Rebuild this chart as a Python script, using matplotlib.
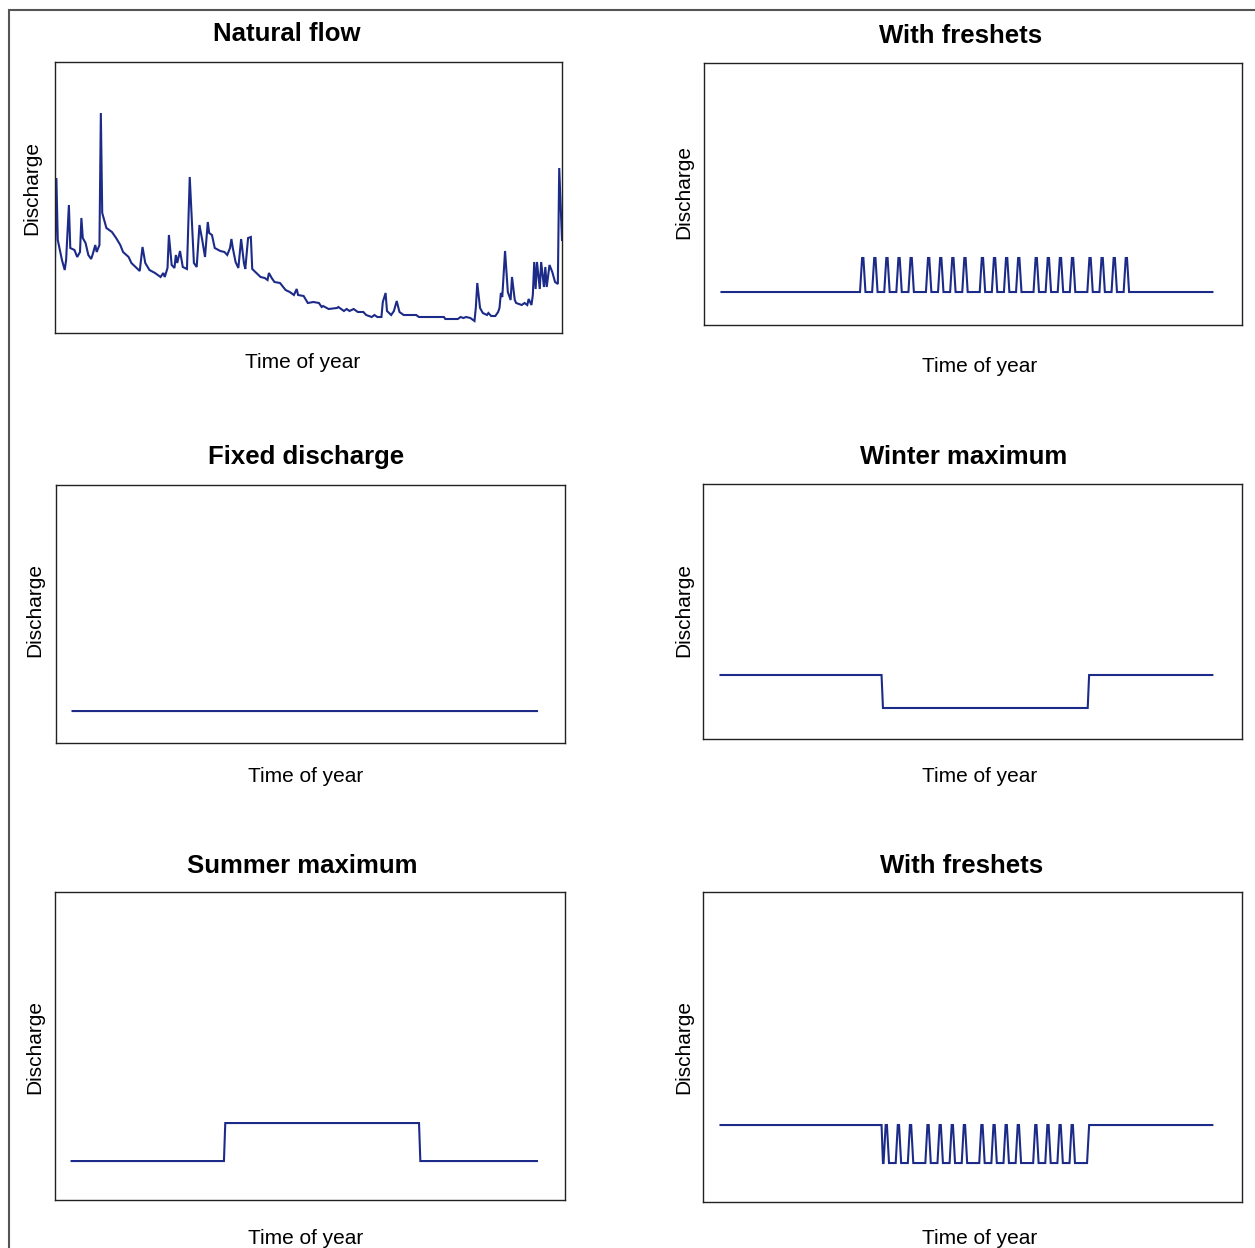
import numpy as np
import matplotlib
matplotlib.use("Agg")
import matplotlib.pyplot as plt
from matplotlib.patches import Rectangle

plt.rcParams["font.family"] = ["Liberation Sans", "DejaVu Sans"]

W, H = 1255, 1248
LINE = "#1c2b88"

# ---- Natural flow: daily discharge through the year (day, discharge) ----
nat_day = [
    0, 1, 2, 5, 7, 8, 10, 11, 14, 16,
    18, 19, 20, 22, 24, 26, 27, 29, 30, 32,
    33, 34, 37, 41, 44, 47, 49, 53, 55, 58,
    61, 63, 65, 68, 72, 76, 78, 79, 81, 82,
    84, 86, 87, 88, 90, 92, 95, 97, 100, 102,
    104, 106, 108, 110, 111, 113, 115, 119, 122, 124,
    126, 127, 128, 130, 132, 134, 136, 137, 139, 141,
    142, 145, 148, 151, 153, 154, 156, 158, 162, 166,
    169, 172, 174, 175, 179, 182, 186, 190, 192, 193,
    197, 203, 204, 208, 210, 212, 215, 218, 222, 224,
    228, 230, 232, 235, 236, 238, 239, 242, 244, 246,
    248, 251, 260, 262, 280, 281, 290, 292, 294, 296,
    299, 302, 303, 304, 306, 308, 311, 312, 314, 317,
    319, 320, 321, 322, 324, 326, 328, 329, 331, 332,
    336, 338, 340, 341, 343, 344, 345, 346, 347, 349,
    350, 352, 353, 354, 356, 358, 360, 362, 363, 365,
]
nat_q = [
    7.6, 15.5, 9.3, 7.3, 6.3, 7.3, 12.8, 8.5, 8.3, 7.6,
    8.1, 11.5, 9.5, 9.0, 7.8, 7.4, 7.8, 8.8, 8.1, 8.8,
    22.0, 12.0, 10.5, 10.1, 9.5, 8.8, 8.1, 7.6, 7.0, 6.6,
    6.2, 8.6, 7.0, 6.3, 6.0, 5.6, 6.0, 5.6, 6.5, 9.8,
    6.8, 6.5, 7.8, 7.0, 8.2, 6.6, 6.4, 15.6, 7.0, 6.6,
    10.8, 9.3, 7.6, 11.1, 10.0, 9.8, 8.5, 8.2, 8.1, 7.8,
    8.5, 9.4, 8.5, 7.1, 6.5, 9.4, 7.0, 6.4, 9.5, 9.6,
    6.4, 6.0, 5.6, 5.5, 5.3, 6.0, 5.5, 5.1, 5.0, 4.3,
    4.1, 3.8, 4.4, 3.8, 3.7, 3.0, 3.1, 3.0, 2.6, 2.7,
    2.4, 2.5, 2.6, 2.2, 2.4, 2.2, 2.4, 2.1, 2.1, 1.8,
    1.6, 1.8, 1.6, 1.6, 3.1, 4.0, 2.2, 1.8, 2.2, 3.2,
    2.1, 1.8, 1.8, 1.6, 1.6, 1.4, 1.4, 1.6, 1.5, 1.6,
    1.5, 1.2, 2.6, 5.0, 2.5, 2.0, 1.8, 2.0, 1.7, 1.7,
    2.1, 2.5, 4.0, 3.6, 8.2, 4.1, 3.3, 5.6, 3.3, 3.0,
    2.8, 3.0, 2.8, 3.4, 2.8, 3.8, 7.1, 4.4, 7.1, 4.4,
    7.1, 4.6, 6.6, 4.6, 6.8, 6.1, 5.1, 4.9, 16.5, 9.3,
]

# ---- Managed release regimes ----
low_flow = 2.0
high_flow = 4.0
fixed_flow = 3.0
summer_start = 120   # day the summer regime begins
summer_end = 273     # day the winter regime resumes
freshet_days = [105, 114, 123, 132, 141, 154, 163, 172, 181, 194, 203,
                212, 221, 234, 243, 252, 261, 274, 283, 292, 301]

days = np.linspace(0, 365, 7301)


def seasonal(winter, summer):
    """Two-level regime with a one-day ramp at each season change."""
    bx = [0, summer_start - 0.5, summer_start + 0.5,
          summer_end - 0.5, summer_end + 0.5, 365]
    by = [winter, winter, summer, summer, winter, winter]
    return np.interp(days, bx, by)


def with_freshets(q, base, peak):
    """Superimpose short trapezoidal freshet pulses on a release series."""
    out = q.copy()
    for p in freshet_days:
        shape = np.interp(days, [p - 2.0, p - 0.5, p + 0.5, p + 2.0],
                          [0, 1, 1, 0], left=0, right=0)
        out = np.maximum(out, base + (peak - base) * shape)
    return out


panels = [
    # title, axes box (x0, y0, x1, y1) px, title xy, xlabel xy, ylabel xy
    ("Natural flow", (55, 62, 562, 333), (287, 34), (303, 363), (32, 188)),
    ("With freshets", (704, 63, 1242, 325), (961, 36), (980, 367), (684, 192)),
    ("Fixed discharge", (56, 485, 565, 743), (306, 457), (306, 776), (35, 610)),
    ("Winter maximum", (703, 484, 1242, 739), (964, 457), (980, 776), (684, 610)),
    ("Summer maximum", (55, 892, 565, 1200), (302, 866), (306, 1238), (35, 1047)),
    ("With freshets", (703, 892, 1242, 1202), (962, 866), (980, 1238), (684, 1047)),
]

series = [
    (np.array(nat_day), np.array(nat_q)),
    (days, with_freshets(seasonal(low_flow, low_flow), low_flow, high_flow)),
    (days, seasonal(fixed_flow, fixed_flow)),
    (days, seasonal(high_flow, low_flow)),
    (days, seasonal(low_flow, high_flow)),
    (days, with_freshets(seasonal(high_flow, low_flow), low_flow, high_flow)),
]

limits = [
    ((0, 365), (0, 27.1)),
    ((-13, 387), (0.06, 15.47)),
    ((-13, 387), (1.12, 16.3)),
    ((-13, 387), (0.12, 15.58)),
    ((-13, 387), (-0.05, 16.16)),
    ((-13, 387), (-0.05, 16.26)),
]

fig = plt.figure(figsize=(W / 100, H / 100), dpi=100)


def fx(x):
    return x / W


def fy(y):
    return 1 - y / H


for (title, box, tpos, xpos, ypos), (x, y), (xl, yl) in zip(panels, series, limits):
    x0, y0, x1, y1 = box
    ax = fig.add_axes([fx(x0), fy(y1), (x1 - x0) / W, (y1 - y0) / H])
    ax.plot(x, y, color=LINE, lw=1.5, solid_joinstyle="miter")
    ax.set_xlim(*xl)
    ax.set_ylim(*yl)
    ax.set_xticks([])
    ax.set_yticks([])
    for s in ax.spines.values():
        s.set_color("#222222")
        s.set_linewidth(1.0)
    fig.text(fx(tpos[0]), fy(tpos[1]), title, ha="center", va="center",
             fontsize=18.5, fontweight="bold")
    fig.text(fx(xpos[0]), fy(xpos[1]), "Time of year", ha="center",
             va="center", fontsize=15)
    fig.text(fx(ypos[0]), fy(ypos[1]), "Discharge", ha="center",
             va="center", fontsize=15, rotation=90)

# Outer frame around the panel grid
fig.add_artist(Rectangle((fx(8.5), -0.1), 1.2, fy(10) + 0.1,
                         transform=fig.transFigure, fill=False,
                         ec="#555555", lw=1.5))

fig.savefig("out.png", dpi=100, facecolor="white")
